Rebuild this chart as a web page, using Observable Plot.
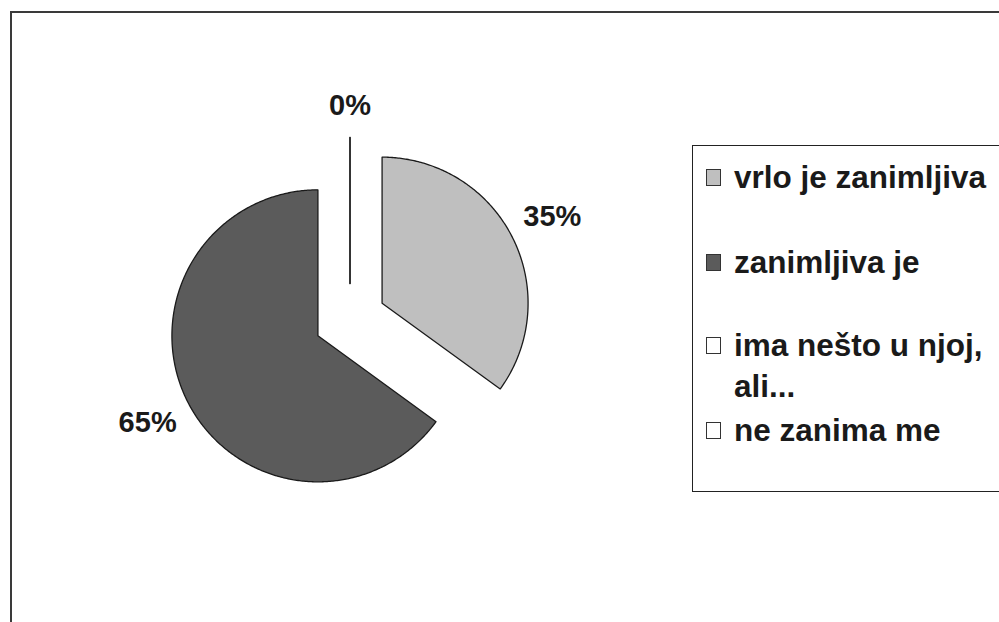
<!DOCTYPE html>
<html>
<head>
<meta charset="utf-8">
<script src="https://cdn.jsdelivr.net/npm/d3@7"></script>
<script src="https://cdn.jsdelivr.net/npm/@observablehq/plot@0.6"></script>
<style>
  html, body { margin: 0; padding: 0; background: #fff; overflow: hidden; }
  #wrap { position: relative; width: 999px; height: 622px; overflow: hidden; font-family: "Liberation Sans", Arial, sans-serif; }
  #frame { position: absolute; left: 10px; top: 11px; width: 1100px; height: 700px; border-top: 2px solid #3a3a3a; border-left: 2px solid #3a3a3a; }
  #chart { position: absolute; left: 0; top: 0; }
  #legend { position: absolute; left: 692px; top: 145px; width: 340px; height: 345px; border: 1.5px solid #222; background: #fff; }
  .row { position: absolute; left: 13px; font-weight: bold; font-size: 31.5px; line-height: 36px; color: #1a1a1a; white-space: nowrap; }
  .sw { position: absolute; left: 0; width: 13px; height: 15px; border: 1px solid #333; }
  .txt { position: absolute; left: 28px; }
</style>
</head>
<body>
<div id="wrap">
  <div id="frame"></div>
  <div id="chart"></div>
  <div id="legend"></div>
</div>
<script>
const categories = ["vrlo je zanimljiva", "zanimljiva je", "ima nešto u njoj, ali...", "ne zanima me"];
const legendLines = [["vrlo je zanimljiva"], ["zanimljiva je"], ["ima nešto u njoj,", "ali..."], ["ne zanima me"]];
const values = [35, 65, 0, 0];
const percentLabels = ["35%", "65%", "0%", "0%"];
const sliceColors = ["#bfbfbf", "#5b5b5b", "#ffffff", "#ffffff"];

// geometry (unit radius)
const cx = 349.5, cy = 319, Rpx = 146;
const explode = 36 / Rpx;
const labelGap = 203 / Rpx;
const labelFont = 29;
const pie = d3.pie().sort(null).value(d => d)(values);

const polys = [];
const labelRows = [];
let lastMid = null;
pie.forEach((p, i) => {
  const a0 = p.startAngle, a1 = p.endAngle, mid = (a0 + a1) / 2;
  const sx = Math.sin(mid), sy = Math.cos(mid);
  const ox = explode * sx, oy = explode * sy;
  polys.push({name: categories[i], x: ox, y: oy});
  const n = Math.max(1, Math.ceil((a1 - a0) / 0.01));
  for (let k = 0; k <= n; ++k) {
    const a = a0 + (a1 - a0) * k / n;
    polys.push({name: categories[i], x: ox + Math.sin(a), y: oy + Math.cos(a)});
  }
  if (lastMid === null || Math.abs(mid - lastMid) > 1e-6) {
    const t = percentLabels[i];
    const hw = t.length * 0.5 * labelFont / 2, hh = 0.36 * labelFont;
    const ext = (Math.abs(sx) * hw + Math.abs(sy) * hh) / Rpx;
    const r = labelGap + ext;
    labelRows.push({text: t, x: r * sx, y: r * sy});
  }
  lastMid = mid;
});

const plot = Plot.plot({
  width: 999,
  height: 622,
  margin: 0,
  x: {domain: [-1, 1], range: [cx - Rpx, cx + Rpx], axis: null},
  y: {domain: [-1, 1], range: [cy + Rpx, cy - Rpx], axis: null},
  color: {type: "ordinal", domain: categories, range: sliceColors},
  style: {background: "transparent"},
  marks: [
    Plot.line(polys, {x: "x", y: "y", z: "name", fill: "name", stroke: "#1a1a1a", strokeWidth: 1.3, curve: "linear-closed"}),
    Plot.text(labelRows, {x: "x", y: "y", text: "text", fontSize: labelFont, fontWeight: "bold", fill: "#1a1a1a", fontFamily: "Liberation Sans, Arial, sans-serif"})
  ]
});
document.getElementById("chart").appendChild(plot);

// legend
const rowCenters = [[31], [116], [199, 240], [284]];
const legend = document.getElementById("legend");
categories.forEach((c, i) => {
  const lines = legendLines[i];
  lines.forEach((line, j) => {
    const row = document.createElement("div");
    row.className = "row";
    row.style.top = (rowCenters[i][j] - 18) + "px";
    row.style.width = "330px";
    row.style.height = "36px";
    if (j === 0) {
      const sw = document.createElement("div");
      sw.className = "sw";
      sw.style.top = "10px";
      sw.style.background = sliceColors[i];
      row.appendChild(sw);
    }
    const t = document.createElement("div");
    t.className = "txt";
    t.textContent = line;
    row.appendChild(t);
    legend.appendChild(row);
  });
});
</script>
</body>
</html>
